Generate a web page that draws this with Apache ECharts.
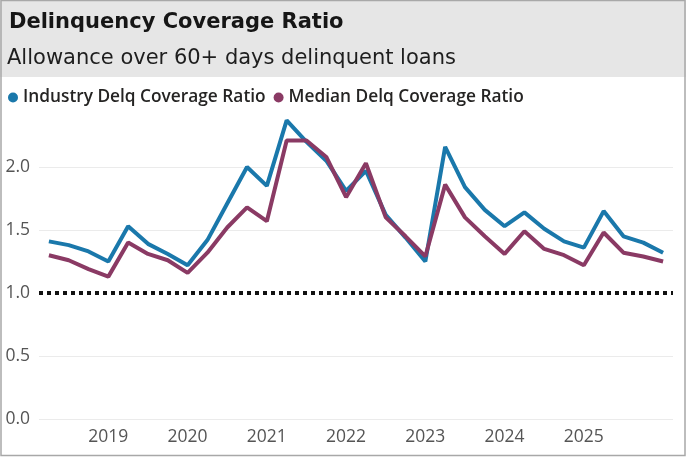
<!DOCTYPE html>
<html>
<head>
<meta charset="utf-8">
<script src="https://cdn.jsdelivr.net/npm/echarts@6/dist/echarts.min.js"></script>
<style>
  html, body { margin: 0; padding: 0; background: #ffffff; }
  #chart { width: 686px; height: 457px; }
</style>
</head>
<body>
<div id="chart"></div>
<script>
// Quarter-end reporting dates
const quarters = [
  '2018-03-31', '2018-06-30', '2018-09-30', '2018-12-31',
  '2019-03-31', '2019-06-30', '2019-09-30', '2019-12-31',
  '2020-03-31', '2020-06-30', '2020-09-30', '2020-12-31',
  '2021-03-31', '2021-06-30', '2021-09-30', '2021-12-31',
  '2022-03-31', '2022-06-30', '2022-09-30', '2022-12-31',
  '2023-03-31', '2023-06-30', '2023-09-30', '2023-12-31',
  '2024-03-31', '2024-06-30', '2024-09-30', '2024-12-31',
  '2025-03-31', '2025-06-30', '2025-09-30', '2025-12-31'
];

// Allowance / 60+ days delinquent loans
const industryRatio = [
  1.41, 1.38, 1.33, 1.25, 1.53, 1.39, 1.31, 1.22,
  1.42, 1.71, 2.00, 1.85, 2.37, 2.20, 2.05, 1.81,
  1.97, 1.62, 1.44, 1.25, 2.16, 1.84, 1.66, 1.53,
  1.64, 1.51, 1.41, 1.36, 1.65, 1.45, 1.40, 1.32
];
const medianRatio = [
  1.30, 1.26, 1.19, 1.13, 1.40, 1.31, 1.26, 1.16,
  1.32, 1.52, 1.68, 1.57, 2.21, 2.21, 2.08, 1.76,
  2.03, 1.60, 1.45, 1.29, 1.86, 1.60, 1.45, 1.31,
  1.49, 1.35, 1.30, 1.22, 1.48, 1.32, 1.29, 1.25
];

// Year labels, each placed at the turn of the year (after the Q4 point)
const yearLabels = ['2019', '2020', '2021', '2022', '2023', '2024', '2025'];
const firstYearTickIndex = 3;

// Full coverage reference
const fullCoverage = 1.0;

const FONT = '"Open Sans", "Noto Sans", sans-serif';
const HEAD_FONT = '"DejaVu Sans", "Open Sans", sans-serif';
const BLUE = '#1a78ab';
const PLUM = '#8a3a64';
const GRID = '#ebebeb';

const chart = echarts.init(document.getElementById('chart'), null, { renderer: 'canvas' });

chart.setOption({
  animation: false,
  backgroundColor: '#ffffff',
  textStyle: { fontFamily: FONT },
  graphic: [
    { type: 'rect', z: -10, silent: true,
      shape: { x: 0, y: 0, width: 686, height: 77 },
      style: { fill: '#e6e6e6' } },
    { type: 'rect', z: 100, silent: true,
      shape: { x: 1, y: 0.5, width: 684, height: 455 },
      style: { fill: 'none', stroke: '#a8a8a8', lineWidth: 1.5 } }
  ],
  title: [
    { text: 'Delinquency Coverage Ratio', left: 9, top: 12, padding: 0,
      textStyle: { fontFamily: HEAD_FONT, fontSize: 21, fontWeight: 'bold', color: '#161616' } },
    { text: 'Allowance over 60+ days delinquent loans', left: 7, top: 48, padding: 0,
      textStyle: { fontFamily: HEAD_FONT, fontSize: 21, fontWeight: 'normal', color: '#1e1e1e' } }
  ],
  legend: {
    left: 8, top: 89, padding: 0,
    icon: 'circle', itemWidth: 10, itemHeight: 10, itemGap: 8,
    textStyle: { fontFamily: FONT, fontSize: 17.3, fontWeight: 600, color: '#252423' },
    data: ['Industry Delq Coverage Ratio', 'Median Delq Coverage Ratio']
  },
  grid: { left: 39, right: 13, top: 104, bottom: 38 },
  xAxis: {
    type: 'category',
    data: quarters,
    boundaryGap: true,
    axisLine: { show: false },
    axisTick: { show: false },
    splitLine: { show: false },
    axisLabel: {
      interval: 0,
      margin: 9,
      fontFamily: FONT, fontSize: 17.5, color: '#555555',
      formatter: (v, idx) => {
        const k = idx - firstYearTickIndex;
        return (k >= 0 && k % 4 === 0) ? (yearLabels[k / 4] || '') : '';
      }
    }
  },
  yAxis: {
    type: 'value',
    min: 0, max: 2.5, interval: 0.5,
    axisLine: { show: false },
    axisTick: { show: false },
    axisLabel: {
      margin: 9,
      fontFamily: FONT, fontSize: 17.5, color: '#555555',
      formatter: v => (v > 2.01 ? '' : v.toFixed(1))
    },
    splitLine: {
      lineStyle: { color: [GRID, GRID, 'rgba(0,0,0,0)', GRID, GRID, 'rgba(0,0,0,0)'], width: 1 }
    }
  },
  series: [
    {
      name: 'Industry Delq Coverage Ratio',
      type: 'line',
      data: industryRatio,
      symbol: 'none',
      color: BLUE,
      lineStyle: { color: BLUE, width: 4 },
      z: 3,
      markLine: {
        silent: true,
        symbol: 'none',
        label: { show: false },
        lineStyle: { color: '#111111', width: 4, type: [4, 4] },
        data: [{ yAxis: fullCoverage }]
      }
    },
    {
      name: 'Median Delq Coverage Ratio',
      type: 'line',
      data: medianRatio,
      symbol: 'none',
      color: PLUM,
      lineStyle: { color: PLUM, width: 4 },
      z: 4
    }
  ]
});
</script>
</body>
</html>
